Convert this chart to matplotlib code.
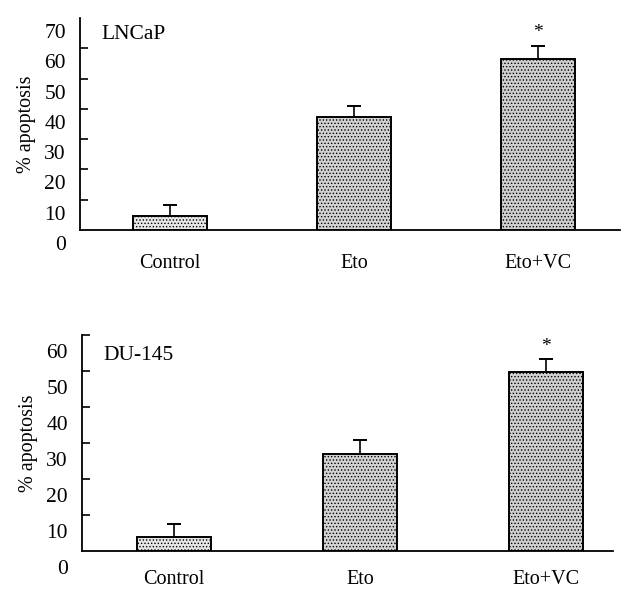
import matplotlib
matplotlib.use("Agg")
import matplotlib.pyplot as plt
from matplotlib.transforms import ScaledTranslation
import numpy as np

plt.rcParams['font.family'] = ['Liberation Serif', 'DejaVu Serif']
plt.rcParams['hatch.color'] = '#9a9a9a'
plt.rcParams['hatch.linewidth'] = 0.6

# data
groups = ['Control', 'Eto', 'Eto+VC']
lncap_mean = [4.5, 37.2, 56.5]
lncap_err = [3.9, 3.8, 4.4]
du145_mean = [3.8, 26.9, 49.8]
du145_err = [3.7, 3.8, 3.4]
sig = [False, False, True]

panels = [
    # name, means, errs, ymax, label ticks, tick marks, axes rect, xlim, label shift (px), xlabel pad
    ('LNCaP', lncap_mean, lncap_err, 70, np.arange(0, 80, 10), np.arange(10, 70, 10),
     [0.128, 0.6095, 0.866, 0.36], (-0.489, 2.446), 13, 17),
    ('DU-145', du145_mean, du145_err, 60, np.arange(0, 70, 10), np.arange(10, 70, 10),
     [0.131, 0.0645, 0.851, 0.367], (-0.498, 2.36), 16, 14),
]

fig = plt.figure(figsize=(6.24, 5.89), dpi=100)

for name, means, errs, ymax, ticks, marks, rect, xlim, shift, xpad in panels:
    ax = fig.add_axes(rect)
    x = np.arange(len(groups))
    fills = ['#e6e6e6', '#d2d2d2', '#cfcfcf']
    ax.bar(x, means, width=0.40, color=fills, edgecolor='black',
           linewidth=1.4, hatch='.....', zorder=2)
    # only upper error bars, as in the original
    ax.errorbar(x, means, yerr=[np.zeros(len(errs)), errs], fmt='none',
                ecolor='black', elinewidth=1.2, capsize=5, capthick=1.4,
                zorder=3)
    for xi, m, e, s in zip(x, means, errs, sig):
        if s:
            ax.annotate('*', (xi, m + e), xytext=(0, 3), textcoords='offset points',
                        ha='center', va='bottom', fontsize=14)

    ax.set_xlim(*xlim)
    ax.set_ylim(0, ymax)
    ax.set_xticks(x)
    ax.set_xticklabels(groups, fontsize=14.5)
    ax.tick_params(axis='x', length=0, pad=xpad)

    # labels on major ticks (no marks), marks drawn as minor ticks
    ax.yaxis.remove_overlapping_locs = False
    ax.set_yticks(ticks)
    ax.set_yticklabels([str(t) for t in ticks], fontsize=15.5)
    ax.tick_params(axis='y', which='major', length=0, pad=10)
    ax.set_yticks(marks, minor=True)
    ax.tick_params(axis='y', which='minor', direction='in', length=6, width=1.2)
    # tick labels in the scan sit a bit below their ticks
    off = ScaledTranslation(0, -shift / 100, fig.dpi_scale_trans)
    for lab in ax.get_yticklabels():
        lab.set_transform(lab.get_transform() + off)

    ax.set_ylabel('% apoptosis', fontsize=14.5, labelpad=6)
    ax.text(0.04, 0.965 if ymax == 70 else 0.95, name, transform=ax.transAxes,
            ha='left', va='top', fontsize=15.5)

    for side in ['top', 'right']:
        ax.spines[side].set_visible(False)
    ax.spines['left'].set_linewidth(1.3)
    ax.spines['bottom'].set_linewidth(1.3)

fig.savefig('out.png', dpi=100, facecolor='white')
